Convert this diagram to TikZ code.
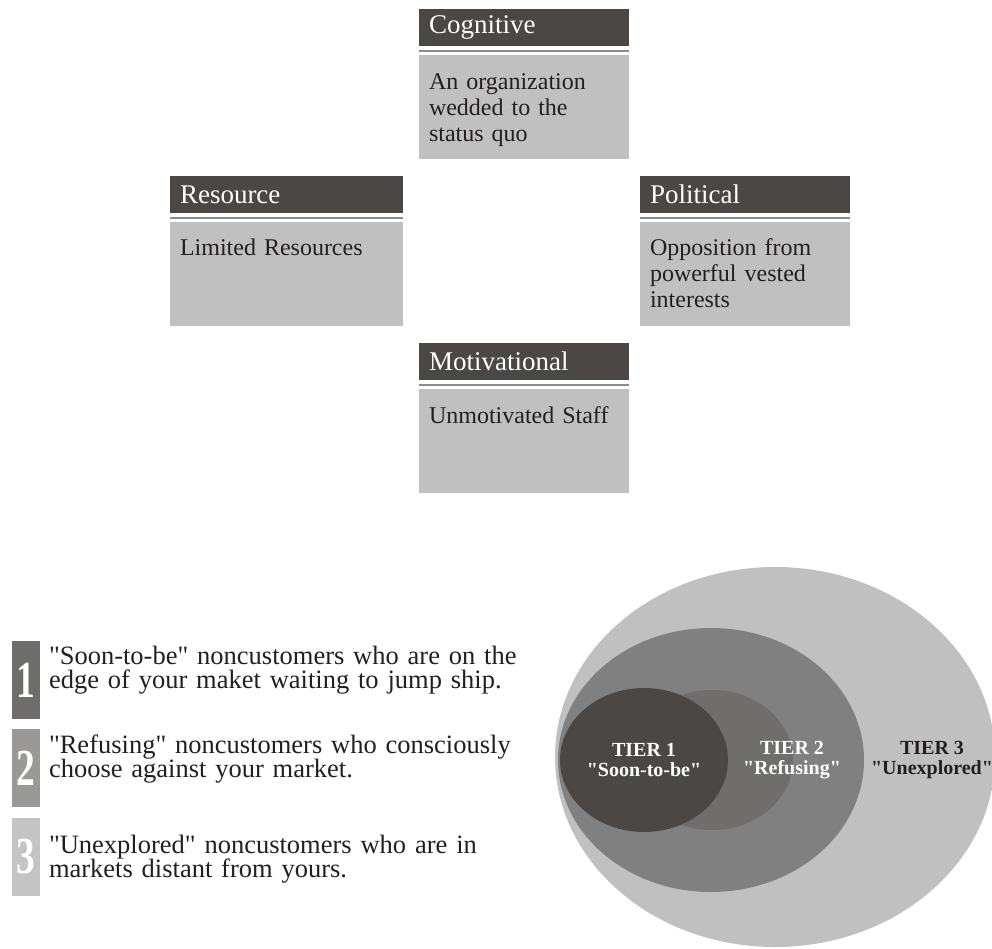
\documentclass[tikz,border=0pt]{standalone}
\usepackage{fontspec}
\setmainfont{Liberation Serif}[Ligatures=TeXOff]
\usepackage{graphicx}
\usetikzlibrary{positioning,shapes.geometric}
\definecolor{bdDark}{RGB}{75,71,69}
\definecolor{bdLight}{RGB}{192,192,192}
\definecolor{bdRule}{RGB}{140,140,140}
\definecolor{bdInk}{RGB}{35,31,32}
\definecolor{tierMid}{RGB}{128,128,128}
\definecolor{tierTwo}{RGB}{112,110,108}
\definecolor{numOne}{RGB}{111,109,107}
\definecolor{numTwo}{RGB}{154,153,152}
\definecolor{numThree}{RGB}{196,196,196}
\tikzset{
    base/.style={inner sep=0pt, outer sep=0pt},
    header/.style={base, rectangle, fill=bdDark, text=white, anchor=north west,
                   minimum height=37pt, inner xsep=10pt, text width=#1, align=left,
                   font=\fontsize{27}{29}\selectfont},
    panel/.style={base, rectangle, fill=bdLight, minimum height=104pt},
    paneltext/.style={base, anchor=base west, text width=190pt, align=left, text=bdInk,
                      font=\fontsize{24}{26}\selectfont},
    separator/.style={line width=2pt, draw=bdRule},
    numbox/.style={base, rectangle, minimum width=28pt, minimum height=78pt, text=white,
                   font=\fontsize{52}{52}\selectfont\bfseries},
    itemtext/.style={base, anchor=base west, text width=480pt, align=left, text=bdInk,
                     font=\fontsize{26.5}{24.5}\selectfont},
    tier/.style={base, ellipse, draw=none},
    tierlabel/.style={base, align=center, font=\fontsize{20}{20}\selectfont\bfseries}
}
\begin{document}
\begin{tikzpicture}[x=1pt, y=-1pt]
  \useasboundingbox (0,0) rectangle (992,949);

  % Barrier boxes
  \node[header=190pt] (cogHead) at (419,9) {Cognitive};
  \node[panel, minimum width=210pt, below right=9pt and 0pt of cogHead.south west] (cogBody) {};
  \node[paneltext] (cogText) at ([xshift=10pt, yshift=-35pt]cogBody.north west)
       {An organization\\wedded to the\\status quo};

  \node[header=213pt] (resHead) at (170,176) {Resource};
  \node[panel, minimum width=233pt, below right=9pt and 0pt of resHead.south west] (resBody) {};
  \node[paneltext] (resText) at ([xshift=10pt, yshift=-34pt]resBody.north west)
       {Limited Resources};

  \node[header=190pt] (polHead) at (640,176) {Political};
  \node[panel, minimum width=210pt, below right=9pt and 0pt of polHead.south west] (polBody) {};
  \node[paneltext] (polText) at ([xshift=10pt, yshift=-34pt]polBody.north west)
       {Opposition from\\powerful vested\\interests};

  \node[header=190pt] (motHead) at (419,343) {Motivational};
  \node[panel, minimum width=210pt, below right=9pt and 0pt of motHead.south west] (motBody) {};
  \node[paneltext] (motText) at ([xshift=10pt, yshift=-34pt]motBody.north west)
       {Unmotivated Staff};

  \foreach \b in {cog,res,pol,mot}
    \draw[separator] ([yshift=-5pt]\b Head.south west) -- ([yshift=-5pt]\b Head.south east);

  % Numbered list
  \node[numbox, fill=numOne] (num1) at (26,680) {\scalebox{0.72}[1]{1}};
  \node[numbox, fill=numTwo] (num2) at (26,768) {\scalebox{0.72}[1]{2}};
  \node[numbox, fill=numThree] (num3) at (26,857) {\scalebox{0.72}[1]{3}};

  \node[itemtext] (item1) at (49,664) {"Soon-to-be" noncustomers who are on the\\edge of your maket waiting to jump ship.};
  \node[itemtext] (item2) at (49,753) {"Refusing" noncustomers who consciously\\choose against your market.};
  \node[itemtext] (item3) at (49,853) {"Unexplored" noncustomers who are in\\markets distant from yours.};

  % Tiers
  \node[tier, fill=bdLight, minimum width=440pt, minimum height=380pt] (tier3) at (775,757) {};
  \node[tier, fill=tierMid, minimum width=306pt, minimum height=264pt] (tier2) at (711,760) {};
  \node[tier, fill=tierTwo, minimum width=162pt, minimum height=140pt] (tier2in) at (712,760) {};
  \node[tier, fill=bdDark, minimum width=168pt, minimum height=144pt] (tier1) at (644,760) {};

  \node[tierlabel, text=white] (lbl1) at (tier1) {TIER 1\\"Soon-to-be"};
  \node[tierlabel, text=white] (lbl2) at (792,760) {TIER 2\\"Refusing"};
  \node[tierlabel, text=bdInk] (lbl3) at (932,760) {TIER 3\\"Unexplored"};

\end{tikzpicture}
\end{document}
